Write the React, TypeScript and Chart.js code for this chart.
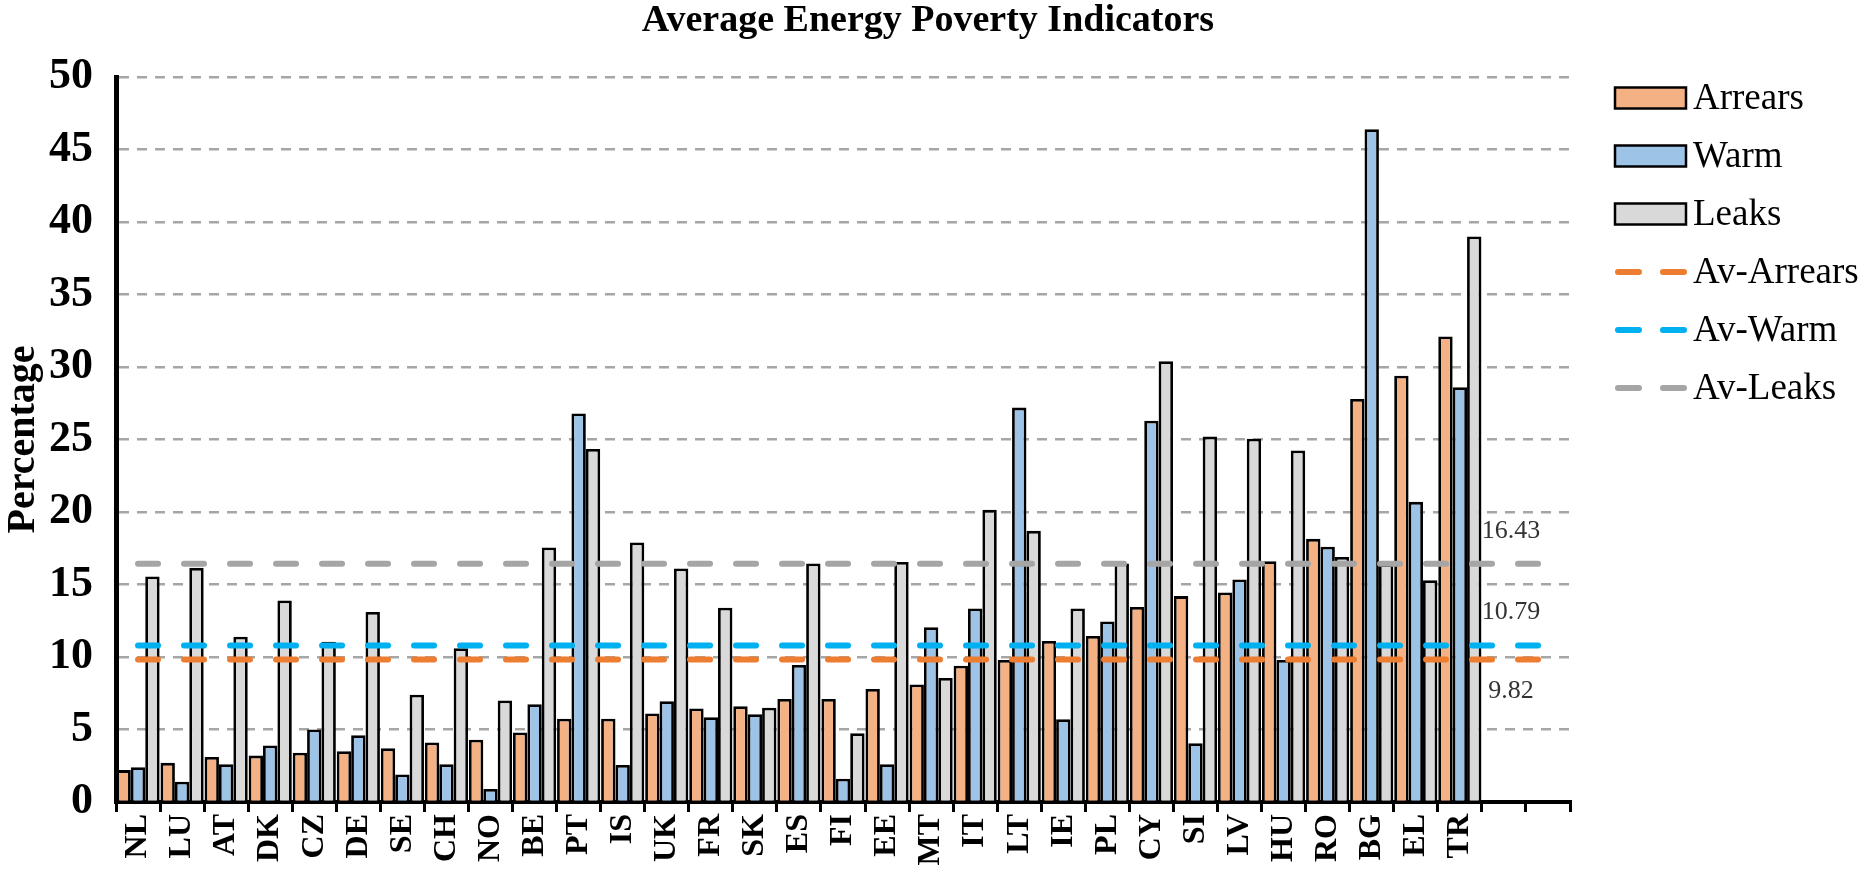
import React, { useEffect, useRef } from "react";
import { Chart, registerables } from "chart.js";

Chart.register(...registerables);

const countries = ["NL","LU","AT","DK","CZ","DE","SE","CH","NO","BE","PT","IS","UK","FR","SK","ES","FI","EE","MT","IT","LT","IE","PL","CY","SI","LV","HU","RO","BG","EL","TR"];
const extraSlots = ["", ""];

const arrears = [2.2,2.7,3.1,3.2,3.4,3.5,3.7,4.1,4.3,4.8,5.75,5.75,6.1,6.45,6.6,7.1,7.1,7.8,8.1,9.4,9.8,11.1,11.45,13.45,14.2,14.45,16.6,18.15,27.8,29.4,32.1];
const warm = [2.4,1.4,2.6,3.9,5.0,4.6,1.9,2.6,0.9,6.75,26.8,2.55,6.95,5.85,6.05,9.45,1.6,2.6,12.05,13.35,27.2,5.7,12.45,26.3,4.05,15.35,9.8,17.6,46.4,20.7,28.6];
const leaks = [15.55,16.15,11.4,13.9,11.05,13.1,7.4,10.6,7.0,17.55,24.35,17.9,16.1,13.4,6.5,16.45,4.75,16.55,8.55,20.15,18.7,13.35,16.45,30.4,25.2,25.05,24.25,16.9,16.4,15.3,39.0];

const avArrears = 9.82;
const avWarm = 10.79;
const avLeaks = 16.43;

const yTicks = [0,5,10,15,20,25,30,35,40,45,50];

const titleText = "Average Energy Poverty Indicators";

const SERIF = "'Liberation Serif', 'Times New Roman', serif";

export default function App() {
  const ref = useRef<HTMLCanvasElement | null>(null);

  useEffect(() => {
    document.body.style.margin = "0";
    const canvas = ref.current;
    if (!canvas) return;
    const labels = [...countries, ...extraSlots];
    const pad = (arr: number[]) => [...arr, ...extraSlots.map(() => null)];
    const flat = (v: number) => labels.map(() => v);

    const titlePlugin = {
      id: "centeredTitle",
      afterDraw(chart: any) {
        const ctx = chart.ctx;
        ctx.save();
        ctx.font = `bold 38px ${SERIF}`;
        ctx.fillStyle = "#000";
        ctx.textAlign = "center";
        ctx.textBaseline = "middle";
        ctx.fillText(titleText, chart.width / 2 - 6, 21);
        ctx.restore();
      },
    };

    const legendPlugin = {
      id: "customLegend",
      afterDraw(chart: any) {
        const ctx = chart.ctx;
        const x0 = chart.chartArea.right + 45;
        const boxW = 71, boxH = 21;
        const yStart = 98, step = 58;
        ctx.save();
        chart.data.datasets.forEach((ds: any, i: number) => {
          const cy = yStart + i * step;
          if (ds.type === "line") {
            ctx.strokeStyle = ds.borderColor;
            ctx.lineWidth = 6;
            ctx.lineCap = "round";
            ctx.beginPath();
            ctx.moveTo(x0 + 3, cy); ctx.lineTo(x0 + 24, cy);
            ctx.moveTo(x0 + 48, cy); ctx.lineTo(x0 + 69, cy);
            ctx.stroke();
          } else {
            ctx.fillStyle = ds.backgroundColor;
            ctx.fillRect(x0, cy - boxH / 2, boxW, boxH);
            ctx.strokeStyle = "#000";
            ctx.lineWidth = 2.5;
            ctx.strokeRect(x0, cy - boxH / 2, boxW, boxH);
          }
          ctx.fillStyle = "#000";
          ctx.font = `37px ${SERIF}`;
          ctx.textBaseline = "middle";
          ctx.textAlign = "left";
          ctx.fillText(ds.label, x0 + boxW + 7, cy + 1);
        });
        ctx.restore();
      },
    };

    const valueLabelPlugin = {
      id: "avgLabels",
      afterDatasetsDraw(chart: any) {
        const ctx = chart.ctx;
        ctx.save();
        ctx.font = `26px ${SERIF}`;
        ctx.fillStyle = "#333";
        ctx.textAlign = "center";
        ctx.textBaseline = "middle";
        chart.data.datasets.forEach((ds: any, i: number) => {
          if (ds.type !== "line") return;
          const meta = chart.getDatasetMeta(i);
          const pt = meta.data[countries.length];
          if (!pt) return;
          const v = ds.data[countries.length];
          const dy = ds.valueLabelSide === "below" ? 32 : -33;
          ctx.fillText(v.toFixed(2), pt.x + 7, pt.y + dy);
        });
        ctx.restore();
      },
    };

    const lineDs = (label: string, value: number, color: string, side: string) => ({
      type: "line",
      label,
      data: flat(value),
      borderColor: color,
      backgroundColor: color,
      borderWidth: 6,
      borderDash: [20, 26],
      borderCapStyle: "round",
      pointRadius: 0,
      pointHoverRadius: 0,
      fill: false,
      order: 0,
      valueLabelSide: side,
    });

    const barDs = (label: string, data: number[], color: string) => ({
      type: "bar",
      label,
      data: pad(data),
      backgroundColor: color,
      borderColor: "#000",
      borderWidth: 2.8,
      borderSkipped: "bottom",
      categoryPercentage: 0.98,
      barPercentage: 1.0,
      order: 1,
    });

    const chart = new Chart(canvas, {
      type: "bar",
      data: {
        labels,
        datasets: [
          barDs("Arrears", arrears, "#F4B183"),
          barDs("Warm", warm, "#9DC3E6"),
          barDs("Leaks", leaks, "#D9D9D9"),
          lineDs("Av-Arrears", avArrears, "#ED7D31", "below"),
          lineDs("Av-Warm", avWarm, "#00B0F0", "above"),
          lineDs("Av-Leaks", avLeaks, "#A5A5A5", "above"),
        ] as any,
      },
      options: {
        animation: false,
        responsive: true,
        maintainAspectRatio: false,
        layout: { padding: { left: 0, right: 298, top: 77, bottom: 0 } },
        plugins: {
          legend: { display: false },
          tooltip: { enabled: false },
          title: { display: false },
        },
        scales: {
          x: {
            type: "category",
            offset: true,
            grid: {
              display: true,
              offset: true,
              drawOnChartArea: false,
              drawTicks: true,
              tickLength: 10,
              color: "#000",
              lineWidth: 3,
            },
            border: { display: true, color: "#000", width: 4 },
            ticks: {
              autoSkip: false,
              maxRotation: 90,
              minRotation: 90,
              padding: 2,
              color: "#000",
              font: { family: SERIF, size: 32, weight: "bold" },
            },
            afterFit: (scale: any) => { scale.height = 87; },
          },
          y: {
            min: 0,
            max: 50,
            afterBuildTicks: (scale: any) => { scale.ticks = yTicks.map((v) => ({ value: v })); },
            grid: {
              color: "#A6A6A6",
              lineWidth: 2.5,
              drawTicks: false,
            },
            border: { display: true, color: "#000", width: 5, dash: [10, 8] },
            ticks: {
              padding: 23,
              color: "#000",
              font: { family: SERIF, size: 44, weight: "bold" },
            },
            title: {
              display: true,
              text: "Percentage",
              color: "#000",
              font: { family: SERIF, size: 40, weight: "bold" },
              padding: { top: 0, bottom: 4 },
            },
            afterFit: (scale: any) => { scale.width = 116; },
          },
        },
      } as any,
      plugins: [titlePlugin, legendPlugin, valueLabelPlugin],
    });
    return () => chart.destroy();
  }, []);

  return (
    <div style={{ position: "fixed", left: 0, top: 0, width: 1868, height: 889, background: "#fff" }}>
      <canvas ref={ref} />
    </div>
  );
}
